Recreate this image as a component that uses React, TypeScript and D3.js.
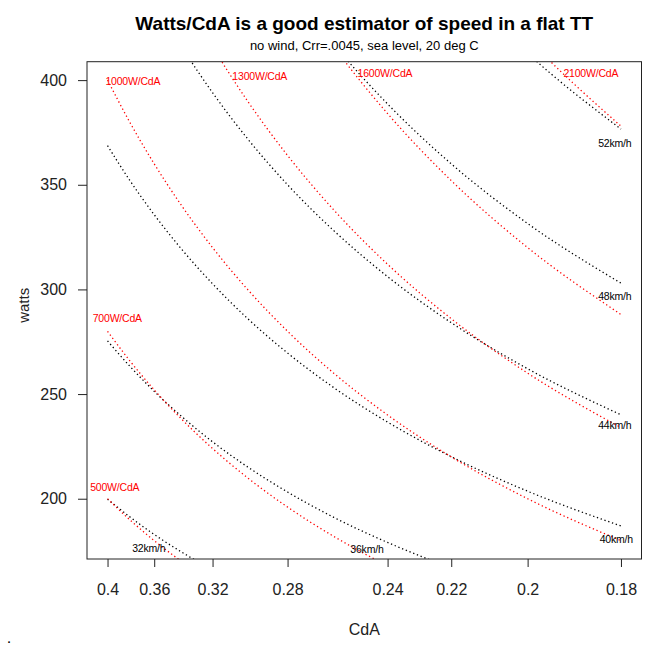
import React, { useEffect, useRef } from 'react';
import * as d3 from 'd3';

// CdA values the curves are sampled at (x axis runs from 0.4 down to 0.18)
const cdaGrid = [0.4, 0.38, 0.36, 0.34, 0.32, 0.3, 0.28, 0.26, 0.24, 0.22, 0.2, 0.18];

// red lines: constant watts/CdA
const ratioLevels = ['500W/CdA', '700W/CdA', '1000W/CdA', '1300W/CdA', '1600W/CdA', '2100W/CdA'];
const watts500 = [200, 190, 180, 170, 160, 150, 140, 130, 120, 110, 100, 90];
const watts700 = [280, 266, 252, 238, 224, 210, 196, 182, 168, 154, 140, 126];
const watts1000 = [400, 380, 360, 340, 320, 300, 280, 260, 240, 220, 200, 180];
const watts1300 = [520, 494, 468, 442, 416, 390, 364, 338, 312, 286, 260, 234];
const watts1600 = [640, 608, 576, 544, 512, 480, 448, 416, 384, 352, 320, 288];
const watts2100 = [840, 798, 756, 714, 672, 630, 588, 546, 504, 462, 420, 378];
const ratioSeries = [watts500, watts700, watts1000, watts1300, watts1600, watts2100];
const ratioLabelCda = [0.3932, 0.3909, 0.3773, 0.2936, 0.2409, 0.186];
const ratioLabelWatts = [205.3, 286.2, 399.4, 401.8, 403.2, 403.2];

// black lines: constant speed
const speedLevels = ['32km/h', '36km/h', '40km/h', '44km/h', '48km/h', '52km/h'];
const watts32 = [199.8, 191.4, 182.9, 174.5, 166.0, 157.5, 149.1, 140.6, 132.2, 123.7, 115.3, 106.8];
const watts36 = [275.4, 263.4, 251.3, 239.3, 227.2, 215.2, 203.2, 191.1, 179.1, 167.0, 155.0, 143.0];
const watts40 = [368.7, 352.2, 335.7, 319.2, 302.7, 286.1, 269.6, 253.1, 236.6, 220.1, 203.6, 187.0];
const watts44 = [481.9, 460.0, 438.0, 416.0, 394.0, 372.0, 350.0, 328.1, 306.1, 284.1, 262.1, 240.1];
const watts48 = [616.9, 588.4, 559.8, 531.3, 502.7, 474.2, 445.7, 417.1, 388.6, 360.0, 331.5, 303.0];
const watts52 = [775.7, 739.4, 703.1, 666.8, 630.5, 594.3, 558.0, 521.7, 485.4, 449.1, 412.8, 376.6];
const speedSeries = [watts32, watts36, watts40, watts44, watts48, watts52];
const speedLabelCda = [0.3642, 0.2473, 0.1809, 0.1812, 0.1812, 0.1812];
const speedLabelWatts = [176.4, 175.9, 180.7, 234.9, 296.9, 369.6];

const xTicks = [0.4, 0.36, 0.32, 0.28, 0.24, 0.22, 0.2, 0.18];
const yTicks = [200, 250, 300, 350, 400];
const wattsRange = [180, 400];

const FONT = '"Liberation Sans", Arial, Helvetica, sans-serif';

export default function App() {
  const svgRef = useRef<SVGSVGElement>(null);

  useEffect(() => {
    if (!svgRef.current) return;
    const svg = d3.select(svgRef.current);
    svg.selectAll('*').remove();

    const width = 663;
    const height = 646;
    const margin = { top: 61.7, right: 21.5, bottom: 87, left: 87 };

    // x is linear in 1/CdA, padded 4% like R does
    const inv = [1 / cdaGrid[0], 1 / cdaGrid[cdaGrid.length - 1]];
    const xPad = (inv[1] - inv[0]) * 0.04;
    const xInv = d3
      .scaleLinear()
      .domain([inv[0] - xPad, inv[1] + xPad])
      .range([margin.left, width - margin.right]);
    const x = (cda: number) => xInv(1 / cda);

    const yPad = (wattsRange[1] - wattsRange[0]) * 0.04;
    const y = d3
      .scaleLinear()
      .domain([wattsRange[0] - yPad, wattsRange[1] + yPad])
      .range([height - margin.bottom, margin.top]);

    svg.append('rect').attr('width', width).attr('height', height).attr('fill', '#fff');

    svg
      .append('clipPath')
      .attr('id', 'plot-clip')
      .append('rect')
      .attr('x', margin.left)
      .attr('y', margin.top)
      .attr('width', width - margin.left - margin.right)
      .attr('height', height - margin.top - margin.bottom);

    const line = d3
      .line<number>()
      .x((_, i) => x(cdaGrid[i]))
      .y((d) => y(d))
      .curve(d3.curveMonotoneX);

    const plot = svg.append('g').attr('clip-path', 'url(#plot-clip)');

    // speed contours
    plot
      .selectAll('.speed')
      .data(speedSeries)
      .enter()
      .append('path')
      .attr('d', (d) => line(d))
      .attr('fill', 'none')
      .attr('stroke', '#000')
      .attr('stroke-width', 1.3)
      .attr('stroke-dasharray', '1.3,2.7');

    // watts/CdA lines
    plot
      .selectAll('.ratio')
      .data(ratioSeries)
      .enter()
      .append('path')
      .attr('d', (d) => line(d))
      .attr('fill', 'none')
      .attr('stroke', '#ff0000')
      .attr('stroke-width', 1.3)
      .attr('stroke-dasharray', '1.3,2.7');

    // labels
    plot
      .selectAll('.ratio-label')
      .data(ratioLevels)
      .enter()
      .append('text')
      .attr('x', (_, i) => x(ratioLabelCda[i]))
      .attr('y', (_, i) => y(ratioLabelWatts[i]))
      .attr('dy', '0.35em')
      .attr('text-anchor', 'middle')
      .style('font-family', FONT)
      .style('font-size', '10.5px')
      .style('letter-spacing', '-0.2px')
      .style('fill', '#ff0000')
      .text((d) => d);

    plot
      .selectAll('.speed-label')
      .data(speedLevels)
      .enter()
      .append('text')
      .attr('x', (_, i) => x(speedLabelCda[i]))
      .attr('y', (_, i) => y(speedLabelWatts[i]))
      .attr('dy', '0.35em')
      .attr('text-anchor', 'middle')
      .style('font-family', FONT)
      .style('font-size', '10.5px')
      .style('letter-spacing', '-0.2px')
      .style('fill', '#000')
      .text((d) => d);

    // box
    svg
      .append('rect')
      .attr('x', margin.left)
      .attr('y', margin.top)
      .attr('width', width - margin.left - margin.right)
      .attr('height', height - margin.top - margin.bottom)
      .attr('fill', 'none')
      .attr('stroke', '#222')
      .attr('stroke-width', 1);

    // axes
    const xAxis = svg
      .append('g')
      .attr('transform', `translate(0,${height - margin.bottom})`)
      .call(
        d3
          .axisBottom(xInv)
          .tickValues(xTicks.map((t) => 1 / t))
          .tickFormat((d) => String(Math.round((1 / (d as number)) * 100) / 100))
          .tickSize(8)
          .tickPadding(17)
      );
    xAxis.select('.domain').remove();
    xAxis
      .selectAll('text')
      .style('font-family', FONT)
      .style('font-size', '16px')
      .style('fill', '#222');
    xAxis.selectAll('line').attr('stroke', '#222');

    const yAxis = svg
      .append('g')
      .attr('transform', `translate(${margin.left},0)`)
      .call(d3.axisLeft(y).tickValues(yTicks).tickSize(9).tickPadding(11));
    yAxis.select('.domain').remove();
    yAxis
      .selectAll('text')
      .style('font-family', FONT)
      .style('font-size', '16px')
      .style('fill', '#222');
    yAxis.selectAll('line').attr('stroke', '#222');

    // titles
    const cx = (margin.left + width - margin.right) / 2;
    svg
      .append('text')
      .attr('x', cx)
      .attr('y', 30)
      .attr('text-anchor', 'middle')
      .style('font-family', FONT)
      .style('font-size', '19px')
      .style('font-weight', 'bold')
      .style('fill', '#000')
      .text('Watts/CdA is a good estimator of speed in a flat TT');

    svg
      .append('text')
      .attr('x', cx)
      .attr('y', 50)
      .attr('text-anchor', 'middle')
      .style('font-family', FONT)
      .style('font-size', '13px')
      .style('fill', '#000')
      .text('no wind, Crr=.0045, sea level, 20 deg C');

    svg
      .append('text')
      .attr('x', cx)
      .attr('y', 635)
      .attr('text-anchor', 'middle')
      .style('font-family', FONT)
      .style('font-size', '16px')
      .style('fill', '#222')
      .text('CdA');

    svg
      .append('text')
      .attr('transform', `translate(28.5,${(margin.top + height - margin.bottom) / 2 - 5}) rotate(-90)`)
      .attr('text-anchor', 'middle')
      .style('font-family', FONT)
      .style('font-size', '15px')
      .style('fill', '#222')
      .text('watts');

    svg
      .append('text')
      .attr('x', 7.5)
      .attr('y', 642.5)
      .style('font-family', FONT)
      .style('font-size', '11px')
      .style('font-weight', 'bold')
      .style('fill', '#000')
      .text('.');
  }, []);

  return (
    <svg
      ref={svgRef}
      width={663}
      height={646}
      style={{ position: 'absolute', left: 0, top: 0, display: 'block' }}
    />
  );
}
